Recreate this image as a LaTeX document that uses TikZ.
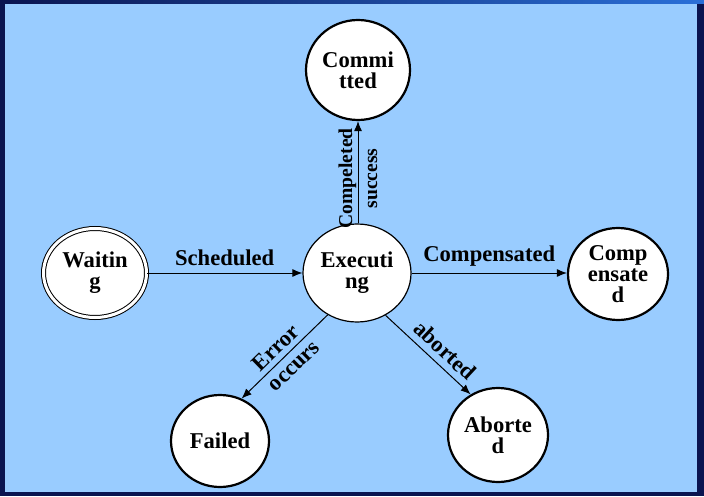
\documentclass[tikz,border=0pt]{standalone}
\usepackage{fontspec}
\setmainfont{Liberation Serif}
\usetikzlibrary{shapes.geometric,arrows.meta}
\definecolor{slidenavy}{HTML}{0A1450}
\definecolor{slideblue}{HTML}{2A6FD8}
\definecolor{panelblue}{HTML}{99CCFF}

\begin{document}
\begin{tikzpicture}[x=0.5pt, y=-0.5pt,
      every node/.style = {font=\fontsize{11.3}{10.5}\selectfont\bfseries, align=center},
      state/.style = {shape=ellipse, draw, line width=1.1pt, fill=white, inner sep=0pt,
        minimum width=50pt, minimum height=47pt},
      lbl/.style = {font=\fontsize{11.3}{12.5}\selectfont\bfseries},
      trans/.style = {-{Latex[length=5pt,width=4pt]}, line width=0.5pt}]
    % slide background
    \fill[slidenavy] (0,0) rectangle (704,496);
    \shade[left color=slidenavy, right color=slideblue] (0,0) rectangle (704,4);
    \fill[panelblue] (5,4) rectangle (697,492);
    \useasboundingbox (0,0) rectangle (704,496);

    % states
    \node[state, minimum width=52pt, minimum height=50pt] (committed) at (358,70) {Commi\\tted};
    \node[state, line width=0.5pt, double, double distance=1.5pt,
      minimum width=51.5pt, minimum height=44.5pt] (waiting) at (95,273) {Waitin\\g};
    \node[state, line width=0.6pt, minimum width=54pt, minimum height=49pt] (executing) at (357,273) {Executi\\ng};
    \node[state, minimum height=46pt] (compensated) at (618,274) {Comp\\ensate\\d};
    \node[state, minimum width=49pt, minimum height=46pt] (failed) at (220,441) {Failed};
    \node[state] (aborted) at (498,435) {Aborte\\d};

    % transitions
    \draw[trans] (waiting) -- node[above] {Scheduled} (executing);
    \draw[trans] (executing.east) -- node[above] {Compensated} (executing.east -| compensated.west);
    \draw[trans] (executing.north -| committed.south) -- node[lbl, font=\fontsize{9.8}{12.5}\selectfont\bfseries, sloped, pos=0.44] {Compeleted\\success} (committed.south);
    \draw[trans] (executing.235) -- node[lbl, sloped] {Error\\occurs} (failed.63);
    \draw[trans] (executing.304) -- node[above, sloped, pos=0.58] {aborted} (aborted.124);
  \end{tikzpicture}
\end{document}
